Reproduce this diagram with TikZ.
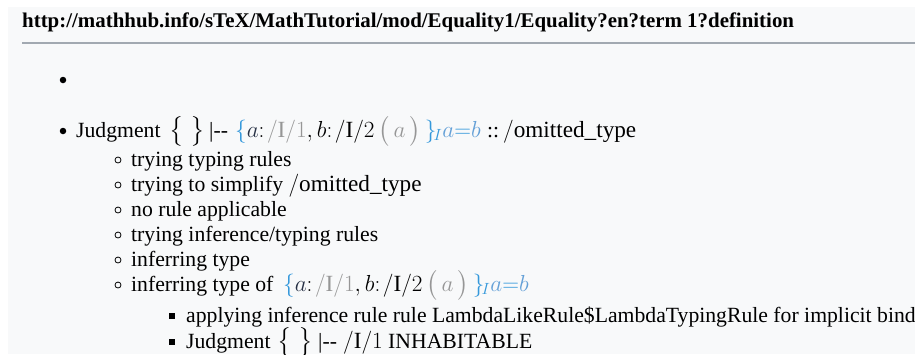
\documentclass[tikz,border=0pt]{standalone}
\usepackage{fix-cm}
\usepackage{amsmath}
\usepackage{fontspec}
\setmainfont{Liberation Serif}
\definecolor{bgpanel}{RGB}{248,249,250}
\definecolor{rulegray}{RGB}{162,169,177}
\definecolor{myblue}{RGB}{52,152,219}
\definecolor{mylb}{RGB}{100,160,215}
\definecolor{mygray}{RGB}{150,150,150}
\definecolor{mydark}{RGB}{40,50,70}
\newcommand{\Bl}{\textcolor{myblue}}
\newcommand{\Gr}{\textcolor{mygray}}
\newcommand{\msz}{\fontsize{23.2}{25}\selectfont}
\newcommand{\ctxterm}{{\msz$\Bl{\{}\textcolor{mydark}{a}{:}\mskip2mu\Gr{/\mathrm{I}/1}, b{:}\mskip2mu/\mathrm{I}/2\,\Gr{\big(\,a\,\big)}\,\Bl{\}_{\!I}}\textcolor{mylb}{a\Bl{{=}}b}$}}
\newcommand{\emptyctx}{{\msz$\big\{\hspace{7pt}\big\}$}}
\newcommand{\omt}{{\msz$\mathrm{/omitted\_type}$}}
\begin{document}
\begin{tikzpicture}[x=1pt,y=-1pt,
  txt/.style={anchor=base west,inner sep=0pt,font=\fontsize{21.7}{25}\selectfont},
  ttl/.style={anchor=base west,inner sep=0pt,font=\fontsize{20.9}{25}\selectfont\bfseries},
  dotbul/.style={circle,fill=black,inner sep=0pt,minimum size=6.5pt},
  ringbul/.style={circle,draw=black,line width=0.8pt,inner sep=0pt,minimum size=6pt},
  sqbul/.style={rectangle,fill=black,inner sep=0pt,minimum size=6pt}]
\useasboundingbox (0,0) rectangle (915,354);
\fill[white] (0,0) rectangle (915,354);
\fill[bgpanel] (8,7) rectangle (915,354);
\node[ttl] (title) at (22,27) {http://mathhub.info/sTeX/MathTutorial/mod/Equality1/Equality?en?term 1?definition};
\coordinate (ruleL) at (22,43);
\coordinate (ruleR) at (915,43);
\draw[rulegray,line width=1.5pt] (ruleL) -- (ruleR);
% level 1
\node[dotbul] (b0) at (63,80) {};
\node[dotbul] (b1) at (63,131) {};
\node[txt] (j1) at (76,137) {Judgment};
\node[txt] (j1b) at (169,137) {\emptyctx};
\node[txt] (j1c) at (209,137) {|-{}-};
\node[txt] (j1d) at (235,137) {\ctxterm};
\node[txt] (j1e) at (487,137) {::};
\node[txt] (j1f) at (503,137) {\omt};
% level 2
\node[ringbul] (c1) at (118,160) {};
\node[txt] (t1) at (131,166) {trying typing rules};
\node[ringbul] (c2) at (118,185) {};
\node[txt] (t2) at (131,191) {trying to simplify \omt};
\node[ringbul] (c3) at (118,210) {};
\node[txt] (t3) at (131,216) {no rule applicable};
\node[ringbul] (c4) at (118,235) {};
\node[txt] (t4) at (131,241) {trying inference/typing rules};
\node[ringbul] (c5) at (118,260) {};
\node[txt] (t5) at (131,266) {inferring type};
\node[ringbul] (c6) at (118,285) {};
\node[txt] (t6) at (131,291) {inferring type of};
\node[txt] (t6b) at (283,291) {\ctxterm};
% level 3
\node[sqbul] (s1) at (172,316) {};
\node[txt] (u1) at (186,322) {applying inference rule rule LambdaLikeRule\$LambdaTypingRule for implicit bind};
\node[sqbul] (s2) at (172,342) {};
\node[txt] (u2) at (186,348) {Judgment};
\node[txt] (u2b) at (277,348) {\emptyctx};
\node[txt] (u2c) at (318,348) {|-{}-};
\node[txt] (u2d) at (343,348) {{\msz$/\mathrm{I}/1$}};
\node[txt] (u2e) at (388,348) {INHABITABLE};
\end{tikzpicture}
\end{document}
